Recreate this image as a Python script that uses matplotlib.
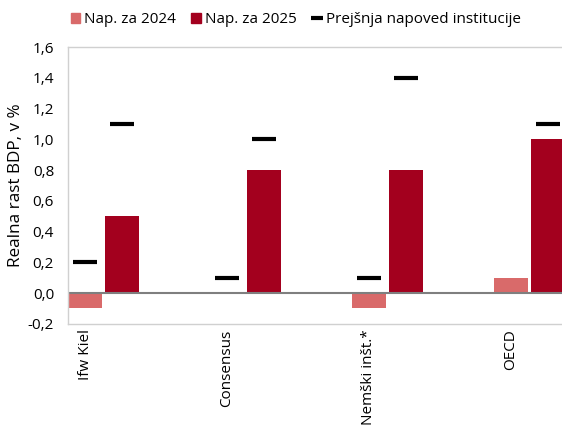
import numpy as np
from matplotlib import pyplot as plt
from matplotlib.lines import Line2D
from matplotlib.patches import Patch

plt.rcParams['font.family'] = ['Open Sans', 'DejaVu Sans']

# podatki
institucije = ['Ifw Kiel', 'Consensus', 'Nemški inšt.*', 'OECD']
nap_2024 = [-0.1, 0.0, -0.1, 0.1]
nap_2025 = [0.5, 0.8, 0.8, 1.0]
prejsnja_2024 = [0.2, 0.1, 0.1, np.nan]
prejsnja_2025 = [1.1, 1.0, 1.4, 1.1]
y_ticks = [-0.2, 0.0, 0.2, 0.4, 0.6, 0.8, 1.0, 1.2, 1.4, 1.6]

barva_2024 = '#d96a6a'
barva_2025 = '#a3001e'

fig = plt.figure(figsize=(5.62, 4.25), dpi=100)
ax = fig.add_axes([0.121, 0.238, 0.879, 0.651])

x = np.arange(len(institucije))
sirina = 0.24
zamik = 0.262

ax.bar(x, nap_2024, sirina, color=barva_2024, zorder=2)
ax.bar(x + zamik, nap_2025, sirina, color=barva_2025, zorder=2)
ax.plot(x, prejsnja_2024, linestyle='none', marker='_', markersize=17,
        mew=3, color='black', zorder=3)
ax.plot(x + zamik, prejsnja_2025, linestyle='none', marker='_', markersize=17,
        mew=3, color='black', zorder=3)

ax.axhline(0, color='#7f7f7f', linewidth=1.5, zorder=2)

ax.set_xlim(-0.12, 3.36)
ax.set_ylim(-0.2, 1.6)
ax.set_yticks(y_ticks)
ax.set_yticklabels([('%.1f' % v).replace('.', ',') for v in y_ticks], fontsize=11)
ax.set_xticks(x)
ax.set_xticklabels(institucije, rotation=90, ha='center', va='top', fontsize=11)
ax.tick_params(axis='both', length=0, pad=4)
ax.tick_params(axis='y', pad=10)
ax.set_ylabel('Realna rast BDP, v %', fontsize=12.3, labelpad=3)

for s in ['left', 'bottom', 'top']:
    ax.spines[s].set_color('#d0d0d0')
    ax.spines[s].set_linewidth(1)
ax.spines['right'].set_visible(False)

handles = [Patch(color=barva_2024), Patch(color=barva_2025),
           Line2D([0], [0], linestyle='none', marker='_', markersize=9,
                  mew=3, color='black')]
oznake = ['Nap. za 2024', 'Nap. za 2025', 'Prejšnja napoved institucije']
fig.legend(handles, oznake, loc='center left', bbox_to_anchor=(0.101, 0.953),
           ncol=3, frameon=False, fontsize=11, handlelength=0.6,
           handleheight=0.6, handletextpad=0.3, columnspacing=1.0)

fig.savefig('out.png', dpi=100)
